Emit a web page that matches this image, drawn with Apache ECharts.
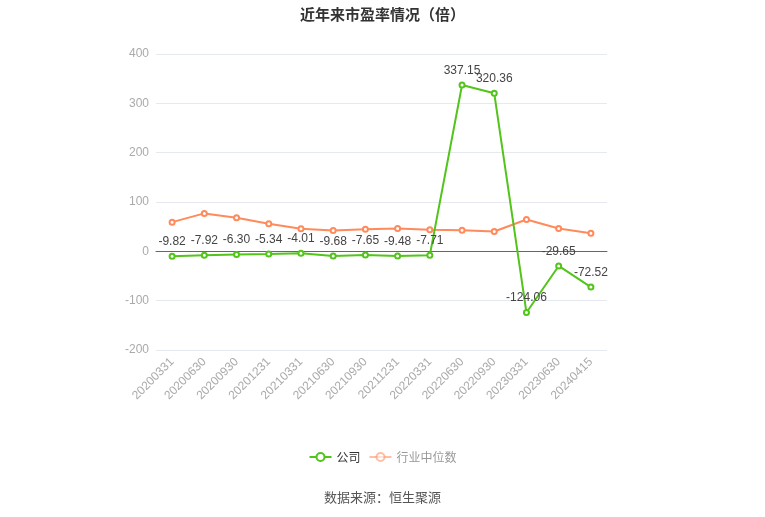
<!DOCTYPE html>
<html>
<head>
<meta charset="utf-8">
<script src="https://cdn.jsdelivr.net/npm/echarts@6/dist/echarts.min.js"></script>
<style>
html,body{margin:0;padding:0;background:#fff;}
#idChart{width:765px;height:517px;}
</style>
</head>
<body>
<div id="idChart"></div>
<script>
var categories = ['20200331','20200630','20200930','20201231','20210331','20210630','20210930','20211231','20220331','20220630','20220930','20230331','20230630','20240415'];
var companyPE = [-9.82,-7.92,-6.30,-5.34,-4.01,-9.68,-7.65,-9.48,-7.71,337.15,320.36,-124.06,-29.65,-72.52];
var industryPE = [59.2,76.9,68.0,55.8,45.6,42.2,44.9,46.3,43.5,42.9,40.1,64.6,46.3,36.7];
var yTicks = [-200,-100,0,100,200,300,400];

var myChart = echarts.init(document.getElementById('idChart'));

var Options = {
    color: ['#52c41a', '#ff8a5b'],
    title: {
        text: '近年来市盈率情况（倍）',
        left: 'center',
        top: 2,
        textStyle: { fontSize: 15, fontWeight: 'bold', color: '#333', fontFamily: 'Noto Sans CJK SC' }
    },
    legend: {
        bottom: 49,
        left: 'center',
        itemWidth: 22,
        itemHeight: 10,
        textStyle: { color: '#333', fontSize: 12, fontFamily: 'Noto Sans CJK SC' },
        data: [
            { name: '公司' },
            { name: '行业中位数', itemStyle: { opacity: 0.55 }, lineStyle: { opacity: 0.55 }, textStyle: { color: '#999' } }
        ]
    },
    graphic: [{
        type: 'text',
        left: 'center',
        top: 491,
        style: { text: '数据来源：恒生聚源', fill: '#555', fontSize: 13, fontFamily: 'Noto Sans CJK SC' }
    }],
    grid: { left: 156, right: 158, top: 54, bottom: 167 },
    xAxis: {
        type: 'category',
        boundaryGap: true,
        data: categories,
        axisLine: { lineStyle: { color: '#666' } },
        axisTick: { alignWithLabel: true, lineStyle: { color: '#666' } },
        axisLabel: { rotate: 45, color: '#aaa', fontSize: 12, margin: 10, interval: 0 }
    },
    yAxis: {
        type: 'value',
        min: yTicks[0],
        max: yTicks[yTicks.length - 1],
        interval: 100,
        axisLine: { show: false },
        axisTick: { show: false },
        axisLabel: { color: '#aaa', fontSize: 12, margin: 7 },
        splitLine: { lineStyle: { color: '#e6e9f0' } }
    },
    series: [
        {
            name: '公司',
            type: 'line',
            data: companyPE,
            symbol: 'emptyCircle',
            symbolSize: 5,
            lineStyle: { width: 2 },
            itemStyle: { borderWidth: 2 },
            label: {
                show: true,
                position: 'top',
                color: '#444',
                fontSize: 12,
                formatter: function (p) { return p.value.toFixed(2); }
            },
            z: 3
        },
        {
            name: '行业中位数',
            type: 'line',
            data: industryPE,
            symbol: 'emptyCircle',
            symbolSize: 5,
            lineStyle: { width: 2 },
            itemStyle: { borderWidth: 2 },
            z: 2
        }
    ],
    animation: false
};

myChart.setOption(Options);
</script>
</body>
</html>
